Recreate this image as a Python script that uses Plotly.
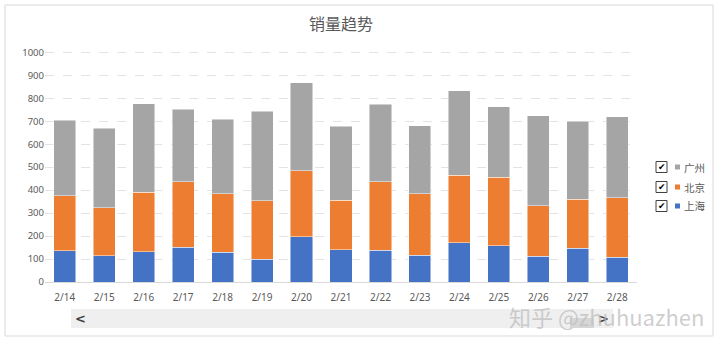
import plotly.graph_objects as go

dates = ["2/14", "2/15", "2/16", "2/17", "2/18", "2/19", "2/20", "2/21",
         "2/22", "2/23", "2/24", "2/25", "2/26", "2/27", "2/28"]
shanghai = [135, 114, 132, 152, 129, 99, 197, 140, 138, 117, 171, 158, 113, 148, 107]
beijing = [240, 209, 259, 284, 255, 255, 288, 217, 298, 267, 293, 299, 219, 213, 260]
guangzhou = [330, 347, 384, 316, 325, 389, 382, 321, 337, 297, 368, 307, 391, 339, 353]

series = [("上海", shanghai, "#4472C4"), ("北京", beijing, "#ED7D31"), ("广州", guangzhou, "#A5A5A5")]
y_ticks = list(range(0, 1001, 100))

fig = go.Figure()
for name, vals, col in series:
    fig.add_trace(go.Bar(x=dates, y=vals, name=name, marker_color=col,
                         marker_line=dict(color="rgba(255,255,255,0.6)", width=0.8),
                         showlegend=False))

W0, W1 = 45, 637  # plot px
def px_x(p):
    return (p - W0) / (W1 - W0)
PT, PB = 45, 282
def px_y(p):
    return (PB - p) / (PB - PT)

CJK = "Noto Sans CJK SC"
fig.update_layout(
    width=720, height=344,
    margin=dict(l=45, r=83, t=PT, b=344 - PB),
    paper_bgcolor="white", plot_bgcolor="white",
    barmode="stack", bargap=0.44,
    title=dict(text="销量趋势", x=0.5, xref="paper", xanchor="center",
               y=1 - 24 / 344, yanchor="middle",
               font=dict(family=CJK, size=16, color="#595959")),
    xaxis=dict(showgrid=False, showline=True, linecolor="#D9D9D9", linewidth=1,
               ticks="", tickfont=dict(family="Noto Sans", size=10, color="#595959"),
               ticklabelstandoff=6),
    yaxis=dict(range=[0, 1031.8], tickvals=y_ticks, showgrid=True, gridcolor="#E3E3E3",
               griddash="dash", gridwidth=1, zeroline=False, showline=False, ticks="",
               tickfont=dict(family="Noto Sans", size=9.5, color="#595959")),
    font=dict(family=CJK),
)

shapes = []
# outer border
shapes.append(dict(type="rect", xref="paper", yref="paper", x0=px_x(5), x1=px_x(713),
                   y0=px_y(336), y1=px_y(5), line=dict(color="#D9D9D9", width=1),
                   fillcolor="rgba(0,0,0,0)", layer="below"))
# scrollbar
shapes.append(dict(type="rect", xref="paper", yref="paper", x0=px_x(71), x1=px_x(613),
                   y0=px_y(328), y1=px_y(309), line=dict(width=0), fillcolor="#EFEFEF"))
shapes.append(dict(type="rect", xref="paper", yref="paper", x0=px_x(570), x1=px_x(594),
                   y0=px_y(328), y1=px_y(318), line=dict(width=0), fillcolor="#D6D6D6"))

def ann(text, xp, yp, size, color, family, xanchor="center"):
    return dict(text=text, x=px_x(xp), y=px_y(yp), xref="paper", yref="paper",
                xanchor=xanchor, yanchor="middle", showarrow=False,
                font=dict(size=size, color=color, family=family))

annotations = [
    ann("<b>&lt;</b>", 80, 318, 13, "#404040", "DejaVu Sans"),
    ann("<b>&gt;</b>", 603, 318, 13, "#404040", "DejaVu Sans"),
    ann("知乎 @zhuhuazhen", 606, 316, 22, "rgba(190,190,190,0.75)", CJK),
]

legend_rows = [("广州", "#A5A5A5", 167), ("北京", "#ED7D31", 187), ("上海", "#4472C4", 206)]
for name, col, cy in legend_rows:
    shapes.append(dict(type="rect", xref="paper", yref="paper", x0=px_x(656), x1=px_x(667),
                       y0=px_y(cy + 5.5), y1=px_y(cy - 5.5), line=dict(color="#404040", width=1),
                       fillcolor="white"))
    shapes.append(dict(type="rect", xref="paper", yref="paper", x0=px_x(675), x1=px_x(680),
                       y0=px_y(cy + 2.5), y1=px_y(cy - 2.5), line=dict(width=0), fillcolor=col))
    annotations.append(ann("✔", 661.5, cy, 9, "black", "DejaVu Sans"))
    annotations.append(ann(name, 682, cy, 10.5, "#595959", CJK, xanchor="left"))

fig.update_layout(shapes=shapes, annotations=annotations)
fig.write_html("out.html", config={"displayModeBar": False})
